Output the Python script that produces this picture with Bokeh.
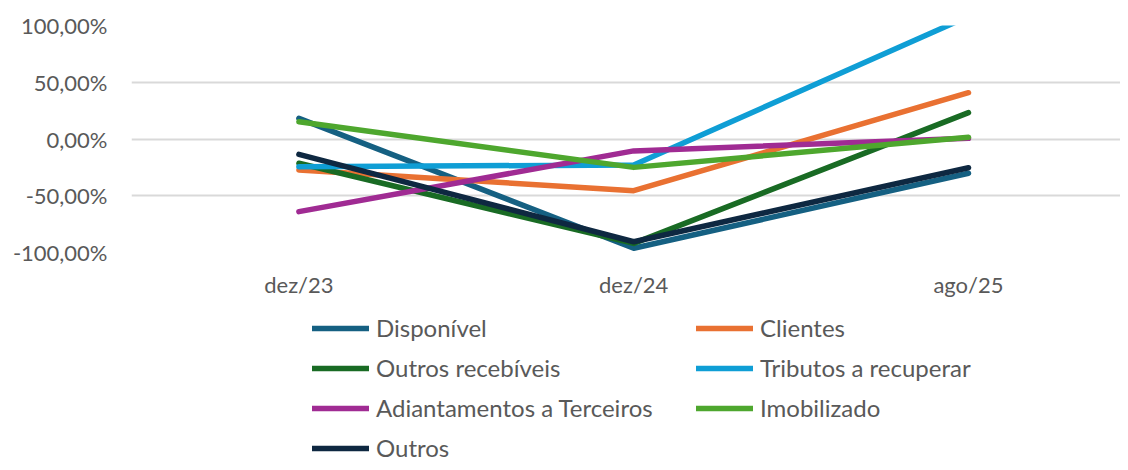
from bokeh.plotting import figure
from bokeh.layouts import column
from bokeh.models import (Range1d, FixedTicker, CustomJSTickFormatter, Legend, LegendItem)
from bokeh.embed import file_html
from bokeh.resources import INLINE

# ---- data ----
periods = ["dez/23", "dez/24", "ago/25"]
y_ticks = [-1.0, -0.5, 0.0, 0.5, 1.0]
y_tick_labels = ["-100,00%", "-50,00%", "0,00%", "50,00%", "100,00%"]

series_names = ["Disponível", "Clientes", "Outros recebíveis", "Tributos a recuperar",
                "Adiantamentos a Terceiros", "Imobilizado", "Outros"]
disponivel = [0.182, -0.963, -0.302]
clientes = [-0.273, -0.455, 0.408]
outros_recebiveis = [-0.214, -0.920, 0.232]
tributos = [-0.244, -0.229, 1.08]
adiantamentos = [-0.640, -0.105, 0.006]
imobilizado = [0.152, -0.250, 0.015]
outros = [-0.135, -0.905, -0.253]
series_values = [disponivel, clientes, outros_recebiveis, tributos,
                 adiantamentos, imobilizado, outros]
colors = ["#156082", "#E97132", "#196B24", "#0F9ED5", "#A02B93", "#4EA72E", "#0E2841"]

FONT = "Lato"
TXT = "#595959"
LW = 5.5

x_pos = [i + 0.5 for i in range(len(periods))]

p = figure(width=1120, height=305, output_backend="svg", toolbar_location=None,
           x_range=Range1d(0, 2.954), y_range=Range1d(-1, 1),
           min_border_left=131, min_border_right=0, min_border_top=25,
           min_border_bottom=53)
p.outline_line_color = None
p.background_fill_color = "white"
p.border_fill_color = "white"

p.xaxis.ticker = FixedTicker(ticks=x_pos)
p.xaxis.formatter = CustomJSTickFormatter(args=dict(labels=periods), code="return labels[index]")
p.yaxis.ticker = FixedTicker(ticks=y_ticks)
p.yaxis.formatter = CustomJSTickFormatter(args=dict(labels=y_tick_labels), code="return labels[index]")
for ax in (p.xaxis, p.yaxis):
    ax.axis_line_color = None
    ax.major_tick_line_color = None
    ax.minor_tick_line_color = None
    ax.major_tick_out = 0
    ax.major_tick_in = 0
    ax.major_label_text_font = FONT
    ax.major_label_text_font_size = "22px"
    ax.major_label_text_color = TXT
p.xaxis.major_label_standoff = 18
p.yaxis.major_label_standoff = 24

p.xgrid.grid_line_color = None
p.ygrid.ticker = FixedTicker(ticks=y_ticks)
p.ygrid.grid_line_color = "#d9d9d9"
p.ygrid.grid_line_width = 2

for vals, col in zip(series_values, colors):
    p.line(x_pos, vals, line_color=col, line_width=LW, line_cap="round", line_join="round")

# ---- legend panel (separate figure below the chart; its series lie outside its view) ----
lg = figure(width=1120, height=157, output_backend="svg", toolbar_location=None,
            x_axis_type=None, y_axis_type=None, x_range=Range1d(10, 11), y_range=Range1d(10, 11),
            min_border=0, min_border_left=131, min_border_right=0)
lg.outline_line_color = None
lg.grid.visible = False
items = []
for name, vals, col in zip(series_names, series_values, colors):
    r = lg.line(x_pos, vals, line_color=col, line_width=LW, line_cap="round")
    items.append(LegendItem(label=name, renderers=[r]))

legend = Legend(items=items, orientation="horizontal", ncols=2,
                location=(181, 0),
                glyph_width=57, glyph_height=20, label_height=20, label_width=309,
                label_standoff=7, spacing=11, padding=0, margin=0,
                border_line_color=None, background_fill_alpha=0,
                label_text_font=FONT, label_text_font_size="24px", label_text_color=TXT)
lg.add_layout(legend, "center")

layout = column(p, lg, spacing=0)
open("out.html", "w").write(file_html(layout, INLINE))
